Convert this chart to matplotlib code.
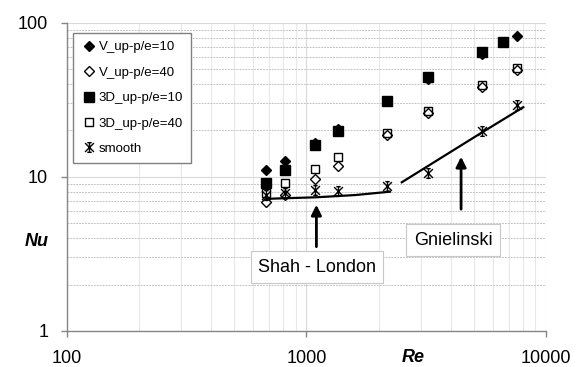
import matplotlib
matplotlib.use('Agg')
import matplotlib.pyplot as plt
import numpy as np
from matplotlib.path import Path
from matplotlib.lines import Line2D

plt.rcParams['font.family'] = ['Liberation Sans', 'DejaVu Sans']

# data
re_v10 = [680, 810, 1085, 1355, 2165, 3220, 5400, 7570]
nu_v10 = [11.0, 12.7, 16.6, 20.4, 31.0, 43.3, 63.0, 82.4]
re_v40 = [680, 810, 1085, 1355, 2165, 3220, 5400, 7570]
nu_v40 = [6.83, 7.57, 9.71, 11.8, 18.6, 25.8, 38.0, 49.0]
re_3d10 = [680, 810, 1085, 1355, 2165, 3220, 5400, 6610]
nu_3d10 = [9.06, 11.0, 16.0, 19.9, 30.9, 44.2, 64.3, 75.4]
re_3d40 = [680, 810, 1085, 1355, 2165, 3220, 5400, 7570]
nu_3d40 = [7.8, 9.08, 11.2, 13.5, 19.3, 26.9, 39.3, 50.5]
re_smooth = [680, 810, 1085, 1355, 2165, 3220, 5400, 7570]
nu_smooth = [7.68, 7.9, 8.24, 8.09, 8.78, 10.66, 19.9, 29.3]

# correlations
re_shah = [680, 1100, 1600, 2230]
nu_shah = [7.2, 7.37, 7.62, 8.01]
re_gn = [2500, 5400, 8040]
nu_gn = [9.22, 19.4, 28.3]

labels = ['V_up-p/e=10', 'V_up-p/e=40', '3D_up-p/e=10', '3D_up-p/e=40', 'smooth']

# excel style asterisk marker (x with vertical bar)
star = Path([(-1, -1), (1, 1), (-1, 1), (1, -1), (0, -1.1), (0, 1.1),
             (-0.5, 1.1), (0.5, 1.1), (-0.5, -1.1), (0.5, -1.1)],
            [Path.MOVETO, Path.LINETO] * 5)

fig = plt.figure(figsize=(5.79, 3.67), dpi=100)
ax = fig.add_axes([0.1157, 0.0981, 0.8273, 0.8401])

ax.set_xscale('log')
ax.set_yscale('log')
ax.set_xlim(100, 10000)
ax.set_ylim(1, 100)

# grid
ax.grid(which='major', axis='both', color='#d9d9d9', lw=0.8, ls='-')
ax.grid(which='minor', axis='x', color='#e8e8e8', lw=0.8, ls='-')
ax.grid(which='minor', axis='y', color='#c4c4c4', lw=0.7, ls=(0, (2, 1)))
ax.set_axisbelow(True)

ax.plot(re_shah, nu_shah, color='black', lw=1.6, zorder=3)
ax.plot(re_gn, nu_gn, color='black', lw=1.6, zorder=3)

ax.plot(re_3d10, nu_3d10, 's', color='black', ms=6.5, ls='none', zorder=4)
ax.plot(re_3d40, nu_3d40, 's', mfc='white', mec='black', mew=1, ms=6.2, ls='none', zorder=4)
ax.plot(re_v10, nu_v10, 'D', color='black', ms=5.2, ls='none', zorder=5)
ax.plot(re_v40, nu_v40, 'D', mfc='none', mec='black', mew=1, ms=5.0, ls='none', zorder=5)
ax.plot(re_smooth, nu_smooth, marker=star, color='black', mew=1, ms=7, ls='none', zorder=6)

handles = [
    Line2D([], [], marker='D', color='black', ms=5.2, ls='none'),
    Line2D([], [], marker='D', mfc='white', mec='black', mew=1, ms=5.0, ls='none'),
    Line2D([], [], marker='s', color='black', ms=6.5, ls='none'),
    Line2D([], [], marker='s', mfc='white', mec='black', mew=1, ms=6.2, ls='none'),
    Line2D([], [], marker=star, color='black', mew=1, ms=7, ls='none'),
]
leg = ax.legend(handles, labels, loc='upper left', bbox_to_anchor=(0.0125, 0.966),
                borderaxespad=0, fontsize=9.5, labelspacing=1.0, handlelength=1.2,
                handletextpad=0.15, borderpad=0.6, fancybox=False, framealpha=1)
leg.get_frame().set_edgecolor('#808080')
leg.get_frame().set_linewidth(1)

# arrows and labels for correlations
ax.annotate('', xy=(1100, 6.87), xytext=(1100, 3.38),
            arrowprops=dict(arrowstyle='-|>', lw=2, color='black', mutation_scale=15))
ax.annotate('', xy=(4420, 14.07), xytext=(4420, 5.92),
            arrowprops=dict(arrowstyle='-|>', lw=2, color='black', mutation_scale=15))
box = dict(boxstyle='square,pad=0.4', fc='white', ec='#c8c8c8', lw=0.8)
ax.text(1106, 2.60, 'Shah - London', fontsize=13, ha='center', va='center', bbox=box, zorder=7)
ax.text(4090, 3.89, 'Gnielinski', fontsize=13, ha='center', va='center', bbox=box, zorder=7)

# axes styling
for s in ['top', 'right']:
    ax.spines[s].set_visible(False)
for s in ['left', 'bottom']:
    ax.spines[s].set_color('#868686')
    ax.spines[s].set_linewidth(1)
ax.set_xticks([100, 1000, 10000])
ax.set_xticklabels(['100', '1000', '10000'])
ax.set_yticks([1, 10, 100])
ax.set_yticklabels(['1', '10', '100'])
ax.tick_params(which='major', length=4.5, width=1, color='#868686', labelsize=13, pad=9)
ax.tick_params(which='minor', length=0)

fig.text(413 / 579, 1 - 357 / 367, 'Re', fontsize=13, fontweight='bold', fontstyle='italic',
         ha='center', va='center')
fig.text(37 / 579, 1 - 241 / 367, 'Nu', fontsize=13, fontweight='bold', fontstyle='italic',
         ha='center', va='center')

fig.savefig('out.png', dpi=100)
